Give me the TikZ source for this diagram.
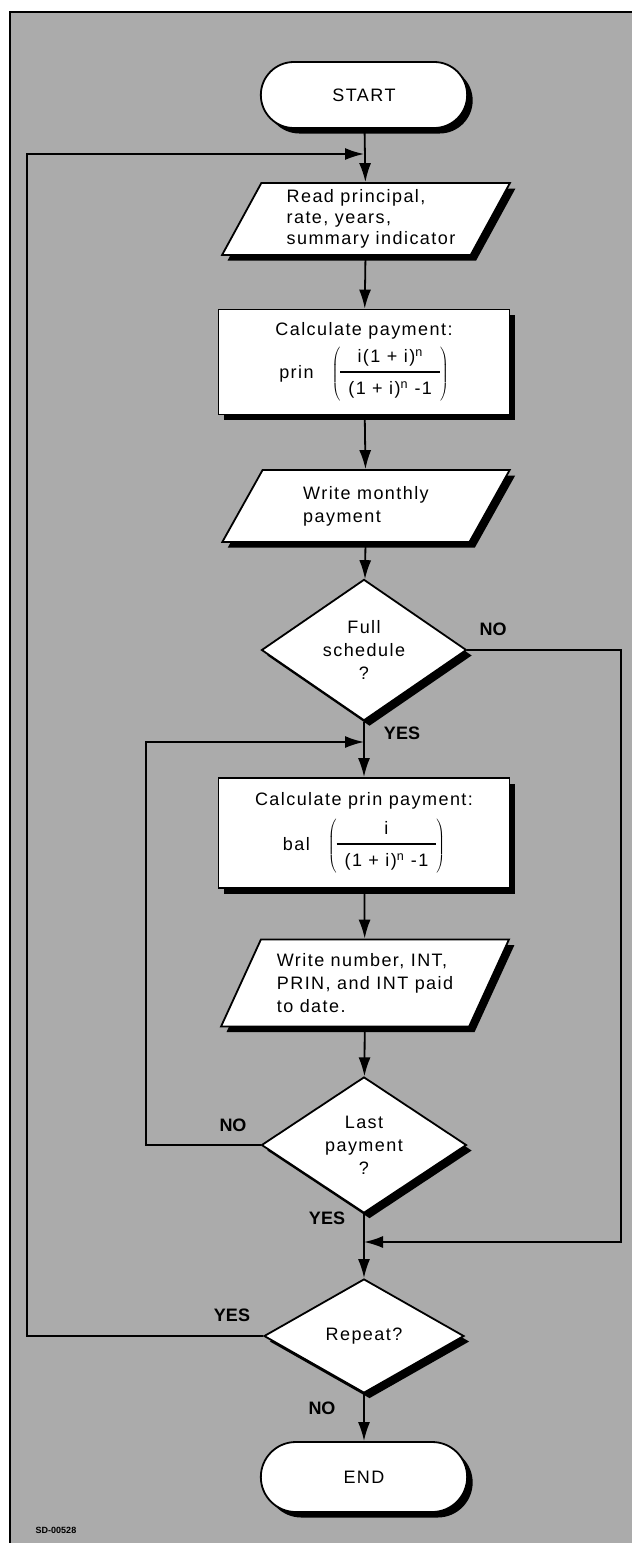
\documentclass[tikz,border=0pt]{standalone}
\usepackage{fontspec}
\setmainfont{Liberation Sans}
\usetikzlibrary{shapes.geometric,shapes.misc,arrows.meta}

\newcommand{\texte}{\fontsize{18}{23}\selectfont\addfontfeature{LetterSpace=8}}
\newcommand{\gras}{\fontsize{18}{20}\selectfont\bfseries}
\setlength{\arrayrulewidth}{1.3pt}

\tikzset{
  ombre/.style={preaction={draw=none,fill=black,transform canvas={xshift=5.5pt,yshift=-5.5pt}}},
  terminal/.style={rounded rectangle,draw,line width=1.8pt,fill=white,ombre,
    minimum width=213pt,minimum height=66pt,font=\texte},
  boite/.style={rectangle,draw,line width=1.8pt,fill=white,ombre,
    minimum width=291pt,align=center,font=\texte},
  entree/.style={trapezium,trapezium left angle=62,trapezium right angle=118,
    trapezium stretches=true,draw,line width=1.8pt,fill=white,ombre,
    minimum width=288pt,align=left,font=\texte},
  test/.style={diamond,draw,line width=1.8pt,fill=white,ombre,minimum width=205pt,
    minimum height=116pt,inner sep=0pt,align=center,font=\texte},
  fleche/.style={line width=1.8pt,-{Latex[length=19pt,width=12pt]}},
  reponse/.style={font=\gras}
}

\begin{document}
\begin{tikzpicture}[x=1pt,y=-1pt]
    \useasboundingbox (0,0) rectangle (632,1543);
    % Fond grise et cadre
    \fill[black!33] (10,12) rectangle (632,1543);
    \draw[line width=2.4pt] (632,12) -- (10,12) -- (10,1543);

    % Les blocs
    \node[terminal] (start) at (364,95) {START};
    \node[entree,minimum height=72pt,font=\fontsize{18}{21}\selectfont\addfontfeature{LetterSpace=8}] (read) at (366,219)
        {\hspace*{10pt}Read principal,\\\hspace*{10pt}rate, years,\\\hspace*{10pt}summary indicator};
    \node[boite,minimum height=105pt] (calc) at (364,362)
        {Calculate payment:\\[6pt]
         prin\hspace{18pt}$\left(\begin{tabular}{@{\hspace{8pt}}c@{\hspace{8pt}}}
           i(1 + i)\textsuperscript{n}\rule[-9pt]{0pt}{9pt}\\ \hline
           \rule{0pt}{22pt}(1 + i)\textsuperscript{n} -1
         \end{tabular}\right)$};
    \node[entree,minimum height=72pt,trapezium left angle=61,trapezium right angle=119] (monthly) at (366,506)
        {Write monthly\\payment};
    \node[test] (full) at (364,650) {Full\\schedule\\?};
    \node[boite,minimum height=110pt] (prin) at (364,833)
        {Calculate prin payment:\\[8pt]
         bal\hspace{18pt}$\left(\begin{tabular}{@{\hspace{8pt}}c@{\hspace{8pt}}}
           i\rule[-9pt]{0pt}{9pt}\\ \hline
           \rule{0pt}{22pt}(1 + i)\textsuperscript{n} -1
         \end{tabular}\right)$};
    \node[entree,minimum height=87pt,trapezium left angle=62,trapezium right angle=118] (number) at (365,983)
        {Write number, INT,\\PRIN, and INT paid\\to date.};
    \node[test] (last) at (364,1145) {Last\\payment\\?};
    \node[test,minimum width=200pt,minimum height=114pt] (repeat) at (364,1336) {Repeat?};
    \node[terminal,minimum height=70pt] (end) at (364,1477) {END};

    % Points de raccord
    \coordinate (haut) at (364,154);
    \coordinate (boucle) at (364,742);
    \coordinate (retour) at (364,1242);

    % Les fleches
    \draw[fleche] (start) -- (read);
    \draw[fleche] (read) -- (calc);
    \draw[fleche] (calc) -- (monthly);
    \draw[fleche] (monthly) -- (full);
    \draw[fleche] (full) -- (prin);
    \draw[fleche] (prin) -- (number);
    \draw[fleche] (number) -- (last);
    \draw[fleche] (last) -- (repeat);
    \draw[fleche] (repeat) -- (end);
    \draw[fleche] (repeat.west) -- (27,1336) -- (27,154) -- (haut);
    \draw[fleche] (last.west) -- (146,1145) -- (146,742) -- (boucle);
    \draw[fleche] (full.east) -- (621,650) -- (621,1242) -- (retour);

    % Les reponses
    \node[reponse] (nofull) at (493,629) {NO};
    \node[reponse] (yesfull) at (402,733) {YES};
    \node[reponse] (nolast) at (233,1125) {NO};
    \node[reponse] (yeslast) at (327,1218) {YES};
    \node[reponse] (yesrep) at (232,1315) {YES};
    \node[reponse] (norep) at (322,1408) {NO};

    \node[font=\fontsize{9}{10}\selectfont\bfseries] (ref) at (56,1530) {SD-00528};
\end{tikzpicture}
\end{document}
